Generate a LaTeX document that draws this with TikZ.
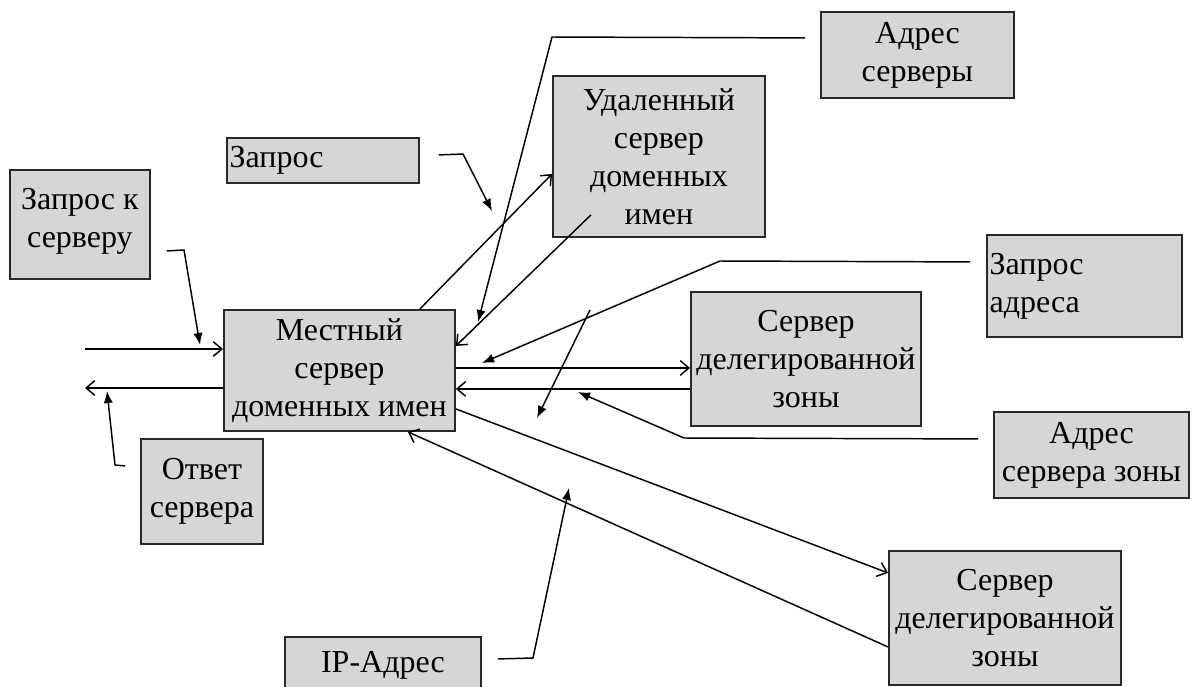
\documentclass[tikz,border=0pt]{standalone}
\usepackage{fontspec}
\setmainfont{Liberation Serif}
\usetikzlibrary{arrows.meta,calc}
\definecolor{boxgray}{RGB}{214,214,214}
\definecolor{ramka}{RGB}{40,40,40}
\tikzset{every picture/.style={line width=0.75pt}}
\tikzset{
  blok/.style={draw=ramka, line width=1.4pt, fill=boxgray, anchor=north west, inner xsep=0pt, inner ysep=2pt, align=center, font=\fontsize{24}{28.5}\selectfont},
  levblok/.style={blok, align=left, inner xsep=2pt},
  strelka/.style={-{Straight Barb[length=6.5pt,width=11pt]}, line width=1.1pt},
  vynoska/.style={-{Latex[length=9pt,width=7pt]}, line width=1.1pt},
}

\begin{document}
\begin{tikzpicture}[x=0.75pt,y=0.75pt,yscale=-1,xscale=1]
\useasboundingbox (0,0) rectangle (1195,686);

% Boxes
\node[blok, minimum width=144.75pt, minimum height=64.5pt] (adrS) at (820,11) {Адрес\\серверы};
\node[blok, minimum width=159pt, minimum height=120.75pt] (udal) at (552,75) {Удаленный\\сервер\\доменных\\имен};
\node[levblok, text width=140pt, minimum height=33.75pt] (zapr) at (226,137) {Запрос};
\node[blok, minimum width=105pt, minimum height=81.75pt] (zaprK) at (9,169) {Запрос к\\серверу\\[-18pt]\mbox{}};
\node[blok, minimum width=173.25pt, minimum height=90.75pt] (mest) at (223,309) {Местный\\сервер\\доменных имен};
\node[blok, minimum width=91.5pt, minimum height=78.75pt] (otv) at (140,438) {Ответ\\сервера};
\node[blok, minimum width=172.5pt, minimum height=100.5pt] (zona1) at (690,291) {Сервер\\делегированной\\зоны};
\node[levblok, text width=142.25pt, minimum height=76.5pt] (zaprA) at (986,234) {Запрос\\адреса};
\node[blok, minimum width=146.25pt, minimum height=64.5pt] (adrZ) at (993,411) {Адрес\\сервера зоны};
\node[blok, minimum width=174pt, minimum height=100.5pt] (zona2) at (888,550) {Сервер\\делегированной\\зоны};
\node[blok, minimum width=147pt, minimum height=42pt] (ip) at (284,636) {IP-Адрес};

% free ends
\coordinate (vhod) at (85,349);
\coordinate (vyhod) at (85,388);

% Straight Lines
\draw[strelka] (vhod) -- (vhod -| mest.west);
\draw[strelka] (vyhod -| mest.west) -- (vyhod);
\draw[strelka] ($(mest.north east)+(-36,0)$) -- ($(udal.west)+(0,17.5)$);
\draw[strelka] ($(udal.south west)+(39,-23)$) -- ($(mest.east)+(0,-24.5)$);
\draw[strelka] ($(mest.east)+(0,-2.5)$) -- ($(zona1.west)+(0,9)$);
\draw[strelka] ($(zona1.west)+(0,30)$) -- ($(mest.east)+(0,18.5)$);
\draw[strelka] ($(mest.east)+(0,38.5)$) -- ($(zona2.west)+(0,-45)$);
\draw[strelka] ($(zona2.west)+(0,29)$) -- ($(mest.south)+(68.5,0)$);

% Leaders
\coordinate (zk2) at (184,250); \coordinate (zk3) at (200,345);
\draw[vynoska] ($(zaprK.east)+(16,26.5)$) -- (zk2) -- (zk3);
\coordinate (ot2) at (115,465); \coordinate (ot3) at (107,391);
\draw[vynoska] ($(otv.west)+(-15,-25.5)$) -- (ot2) -- (ot3);
\coordinate (zp2) at (463,154); \coordinate (zp3) at (492,211);
\draw[vynoska] ($(zapr.east)+(19,-5.5)$) -- (zp2) -- (zp3);
\coordinate (as2) at (552,37); \coordinate (as3) at (478,322);
\draw[vynoska] ($(adrS.west)+(-15,-17)$) -- (as2) -- (as3);
\coordinate (za2) at (720,261); \coordinate (za3) at (482,363);
\draw[vynoska] ($(zaprA.west)+(-16,-24)$) -- (za2) -- (za3);
\coordinate (az2) at (684,438); \coordinate (az3) at (578,392);
\draw[vynoska] ($(adrZ.west)+(-15,-16)$) -- (az2) -- (az3);
\coordinate (ip2) at (533,658); \coordinate (ip3) at (569,488);
\draw[vynoska] ($(ip.east)+(16,-6)$) -- (ip2) -- (ip3);
\coordinate (sv1) at (590,310); \coordinate (sv2) at (537,418);
\draw[vynoska] (sv1) -- (sv2);

\end{tikzpicture}
\end{document}
